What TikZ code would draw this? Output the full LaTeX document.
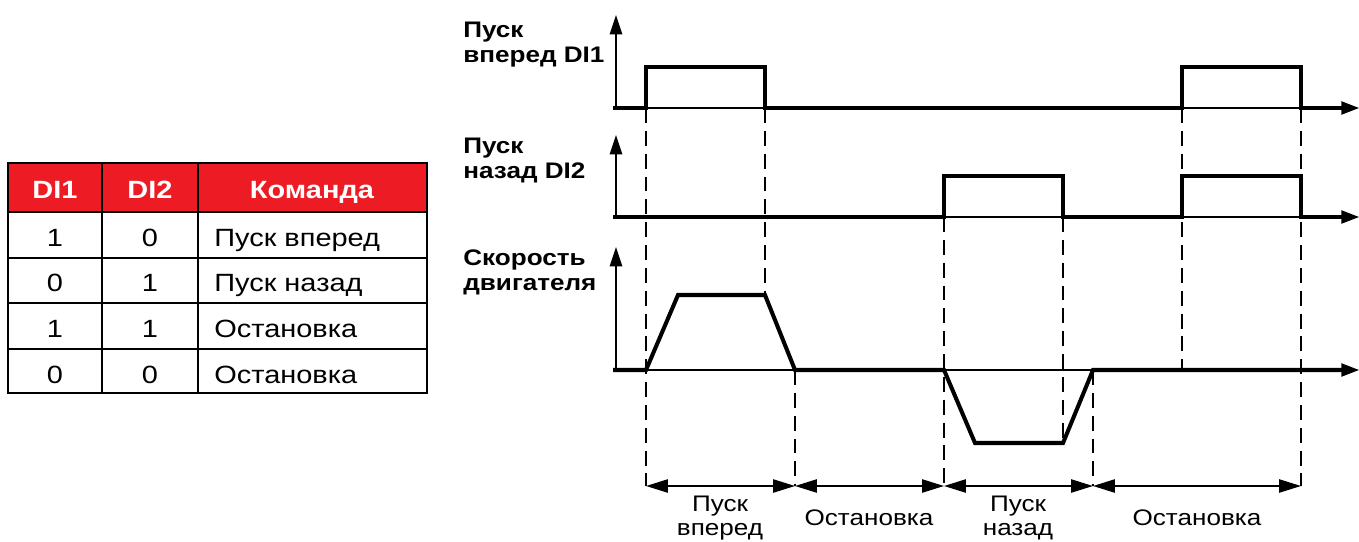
\documentclass[tikz,border=0pt]{standalone}
\usepackage{fontspec}
\setmainfont{Liberation Sans}[FakeStretch=1.16]
\usetikzlibrary{arrows.meta}
\definecolor{headred}{HTML}{ED1C24}

\begin{document}
\begin{tikzpicture}[
  x=0.02cm, y=-0.02cm,
  signal/.style={line width=2.3pt, line join=miter},
  axis/.style={line width=1pt, -{Triangle[length=11pt,width=7pt]}},
  timeax/.style={line width=0.8pt, -{Triangle[length=10pt,width=7.5pt]}},
  guide/.style={line width=0.8pt, dash pattern=on 8.5pt off 4.5pt},
  dimarrow/.style={line width=1.1pt,
    {Triangle[length=12.5pt,width=7.5pt]}-{Triangle[length=12.5pt,width=7.5pt]}},
  lbl/.style={font=\fontsize{12.8}{14}\selectfont\bfseries, align=left,
    anchor=base west, inner sep=0},
  span/.style={font=\fontsize{12.8}{13.6}\selectfont, align=center,
    anchor=base, inner sep=0},
  cell/.style={font=\fontsize{14.2}{16}\selectfont, anchor=base, inner sep=0},
  head/.style={cell, font=\fontsize{14.2}{16}\selectfont\bfseries, text=white}
]
\useasboundingbox (0,0) rectangle (1359,541);

% truth table
\fill[headred] (8,163) rectangle (427,212);
\draw[line width=0.9pt] (8,163) rectangle (427,393);
\foreach \y in {212,258,303,349}
  \draw[line width=0.8pt] (8,\y) -- (427,\y);
\foreach \x in {102,198}
  \draw[line width=0.8pt] (\x,163) -- (\x,393);
\node[head] (h1) at (55,198) {DI1};
\node[head] (h2) at (150,198) {DI2};
\node[head] (h3) at (312,198) {Команда};
\foreach \a/\b/\cmd [count=\i] in {1/0/Пуск вперед, 0/1/Пуск назад,
    1/1/Остановка, 0/0/Остановка} {
  \node[cell] (a\i) at (55,{246+45.7*(\i-1)}) {\a};
  \node[cell] (b\i) at (150,{246+45.7*(\i-1)}) {\b};
  \node[cell, anchor=base west] (c\i) at (214,{246+45.7*(\i-1)}) {\cmd};
}

% time marks
\coordinate (t0) at (646,0);
\coordinate (t1) at (765,0);
\coordinate (t2) at (795,0);
\coordinate (t3) at (944,0);
\coordinate (t4) at (1063,0);
\coordinate (t5) at (1093,0);
\coordinate (t6) at (1182,0);
\coordinate (t7) at (1301,0);

% signal labels (base = last line)
\node[lbl] (sdi1) at (463,62) {Пуск\\вперед DI1};
\node[lbl] (sdi2) at (463,178) {Пуск\\назад DI2};
\node[lbl] (sspd) at (463,290) {Скорость\\двигателя};

% axes
\draw[axis] (616,108) -- (616,15);
\draw[axis] (616,217) -- (616,135);
\draw[axis] (616,370) -- (616,247);
\draw[timeax] (613,108) -- (1359,108);
\draw[timeax] (613,217) -- (1359,217);
\draw[timeax] (613,370) -- (1359,370);

% DI1
\draw[signal] (613,108) -- (646,108) -- (646,67) -- (765,67) -- (765,108)
  -- (1182,108) -- (1182,67) -- (1301,67) -- (1301,108) -- (1346,108);
% DI2
\draw[signal] (613,217) -- (944,217) -- (944,176) -- (1063,176) -- (1063,217)
  -- (1182,217) -- (1182,176) -- (1301,176) -- (1301,217) -- (1346,217);
% speed
\draw[signal] (613,370) -- (646,370) -- (678,295) -- (765,295) -- (795,370)
  -- (944,370) -- (975,443) -- (1063,443) -- (1093,370) -- (1346,370);

% guides
\draw[guide] (t0 |- 0,108) -- (t0 |- 0,486);
\draw[guide] (t1 |- 0,108) -- (t1 |- 0,295);
\draw[guide] (t2 |- 0,370) -- (t2 |- 0,486);
\draw[guide] (t3 |- 0,217) -- (t3 |- 0,486);
\draw[guide] (t4 |- 0,217) -- (t4 |- 0,443);
\draw[guide] (t5 |- 0,370) -- (t5 |- 0,486);
\draw[guide] (t6 |- 0,108) -- (t6 |- 0,372);
\draw[guide] (t7 |- 0,108) -- (t7 |- 0,486);

% intervals
\draw[dimarrow] (t0 |- 0,486) -- (t2 |- 0,486);
\draw[dimarrow] (t2 |- 0,486) -- (t3 |- 0,486);
\draw[dimarrow] (t3 |- 0,486) -- (t5 |- 0,486);
\draw[dimarrow] (t5 |- 0,486) -- (t7 |- 0,486);
\node[span] (p1) at (720,535) {Пуск\\вперед};
\node[span] (p2) at (869,525) {Остановка};
\node[span] (p3) at (1018,535) {Пуск\\назад};
\node[span] (p4) at (1197,525) {Остановка};
\end{tikzpicture}
\end{document}
